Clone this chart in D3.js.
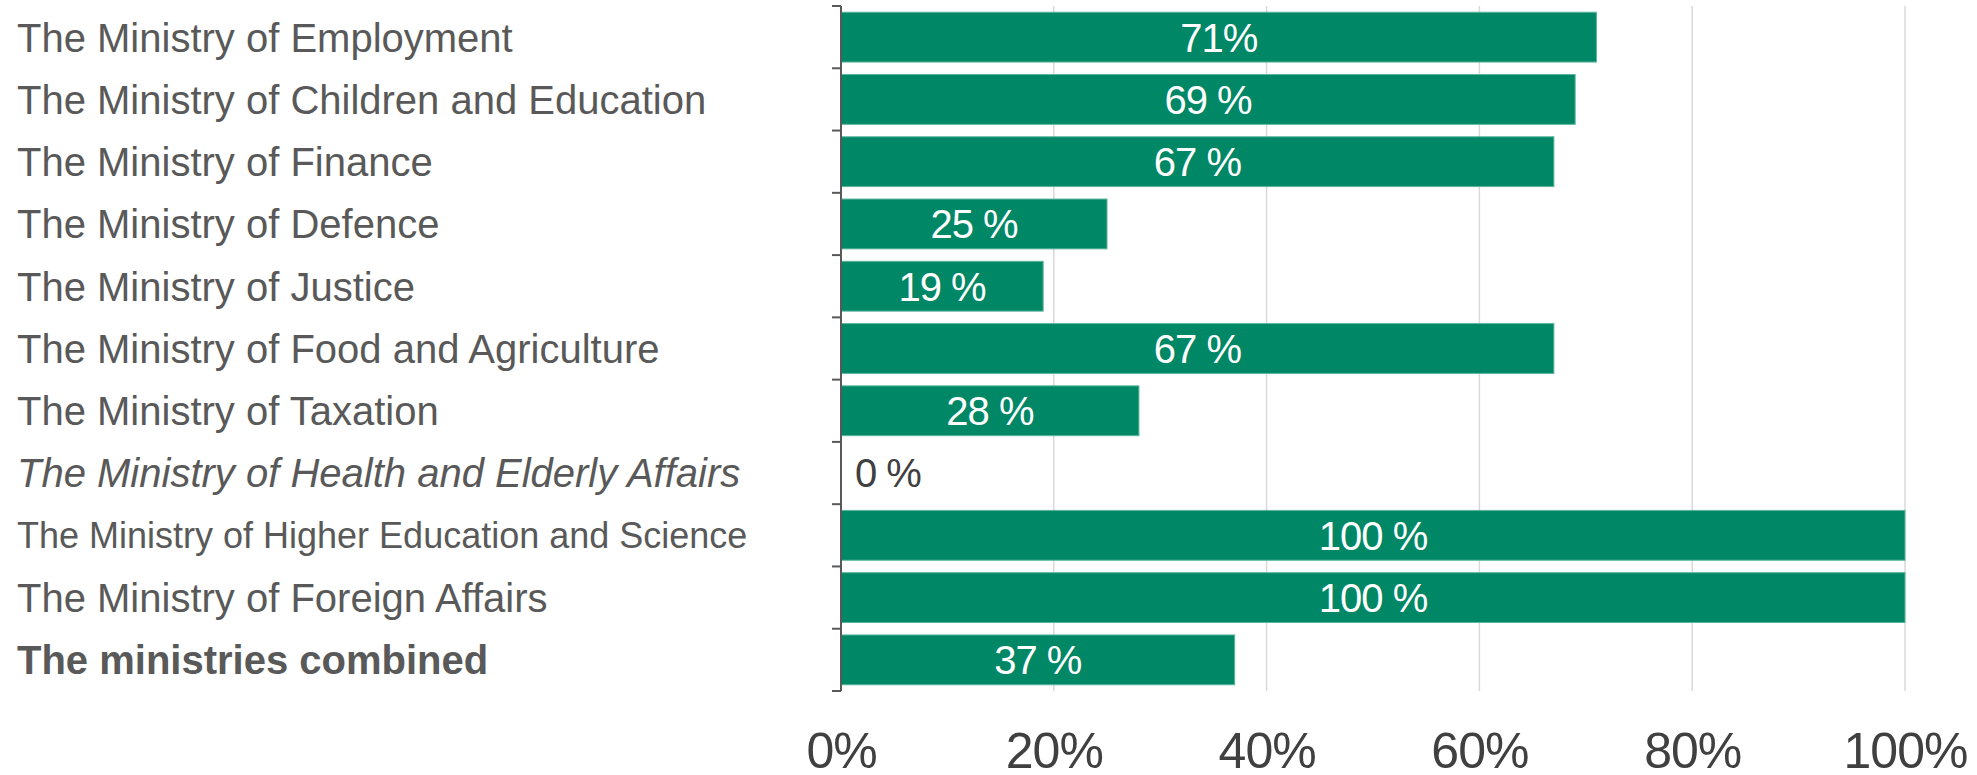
<!DOCTYPE html>
<html>
<head>
<meta charset="utf-8">
<script src="https://cdn.jsdelivr.net/npm/d3@7"></script>
<style>
    body { margin: 0; background: #fff; }
    svg { display: block; font-family: "Liberation Sans", Arial, sans-serif; }
</style>
</head>
<body>
<script>
// data
var ministries = [
    "The Ministry of Employment",
    "The Ministry of Children and Education",
    "The Ministry of Finance",
    "The Ministry of Defence",
    "The Ministry of Justice",
    "The Ministry of Food and Agriculture",
    "The Ministry of Taxation",
    "The Ministry of Health and Elderly Affairs",
    "The Ministry of Higher Education and Science",
    "The Ministry of Foreign Affairs",
    "The ministries combined"
];
var shares = [71, 69, 67, 25, 19, 67, 28, 0, 100, 100, 37];
var shareLabels = ["71%", "69 %", "67 %", "25 %", "19 %", "67 %", "28 %", "0 %", "100 %", "100 %", "37 %"];
var xTicks = [0, 20, 40, 60, 80, 100];

window.onload = drawChart;

function drawChart() {
    var width = 1977, height = 775;
    var svg = d3.select("body")
        .append("svg")
        .attr("width", width)
        .attr("height", height);

    var x = d3.scaleLinear().domain([0, 100]).range([841, 1905]);
    var y = d3.scaleBand().domain(ministries).range([6, 691]).paddingInner(0.2).paddingOuter(0.1);

    // gridlines
    svg.selectAll(".grid")
        .data(xTicks.slice(1))
        .enter()
        .append("line")
        .attr("class", "grid")
        .attr("x1", d => x(d))
        .attr("x2", d => x(d))
        .attr("y1", 6)
        .attr("y2", 691)
        .attr("stroke", "#d9d9d9")
        .attr("stroke-width", 1.5);

    // bars
    svg.selectAll(".bar")
        .data(ministries)
        .enter()
        .append("rect")
        .attr("class", "bar")
        .attr("x", x(0))
        .attr("y", d => y(d))
        .attr("width", (d, i) => x(shares[i]) - x(0))
        .attr("height", y.bandwidth())
        .attr("fill", "#008766")
        .attr("stroke", (d, i) => shares[i] > 0 ? "#5bb59c" : "none")
        .attr("stroke-width", 1);

    // value labels
    svg.selectAll(".val")
        .data(ministries)
        .enter()
        .append("text")
        .attr("class", "val")
        .attr("x", (d, i) => shares[i] > 0 ? (x(0) + x(shares[i])) / 2 : x(0) + 14)
        .attr("y", d => y(d) + y.bandwidth() / 2)
        .attr("dy", "0.36em")
        .attr("text-anchor", (d, i) => shares[i] > 0 ? "middle" : "start")
        .attr("font-size", 40)
        .attr("letter-spacing", -1)
        .attr("fill", (d, i) => shares[i] > 0 ? "#fff" : "#404040")
        .text((d, i) => shareLabels[i]);

    // category labels
    var band = d3.scaleBand().domain(ministries).range([6, 691]);
    svg.selectAll(".cat")
        .data(ministries)
        .enter()
        .append("text")
        .attr("class", "cat")
        .attr("x", 17)
        .attr("y", d => band(d) + band.bandwidth() / 2)
        .attr("dy", "0.36em")
        .attr("font-size", (d, i) => i === 8 ? 36 : 40)
        .attr("font-style", (d, i) => i === 7 ? "italic" : "normal")
        .attr("font-weight", (d, i) => i === ministries.length - 1 ? "bold" : "normal")
        .attr("fill", "#595959")
        .text(d => d);

    // y axis line with outward ticks at band edges
    var edges = ministries.map(d => band(d)).concat([691]);
    svg.append("line")
        .attr("x1", 841).attr("x2", 841)
        .attr("y1", 6).attr("y2", 691)
        .attr("stroke", "#595959")
        .attr("stroke-width", 2);
    svg.selectAll(".ytick")
        .data(edges)
        .enter()
        .append("line")
        .attr("class", "ytick")
        .attr("x1", 832).attr("x2", 841)
        .attr("y1", d => d).attr("y2", d => d)
        .attr("stroke", "#595959")
        .attr("stroke-width", 2);

    // x axis labels
    var xAxis = d3.axisBottom(x)
        .tickValues(xTicks)
        .tickSize(0)
        .tickFormat(d => d + "%");
    var gx = svg.append("g")
        .attr("transform", "translate(0,732)")
        .call(xAxis);
    gx.select(".domain").remove();
    gx.selectAll("text")
        .attr("font-size", 50)
        .attr("font-family", "'Liberation Sans', Arial, sans-serif")
        .attr("letter-spacing", -1)
        .attr("fill", "#404040")
        .attr("dy", "0.72em")
        .attr("y", 0);
}
</script>
</body>
</html>
